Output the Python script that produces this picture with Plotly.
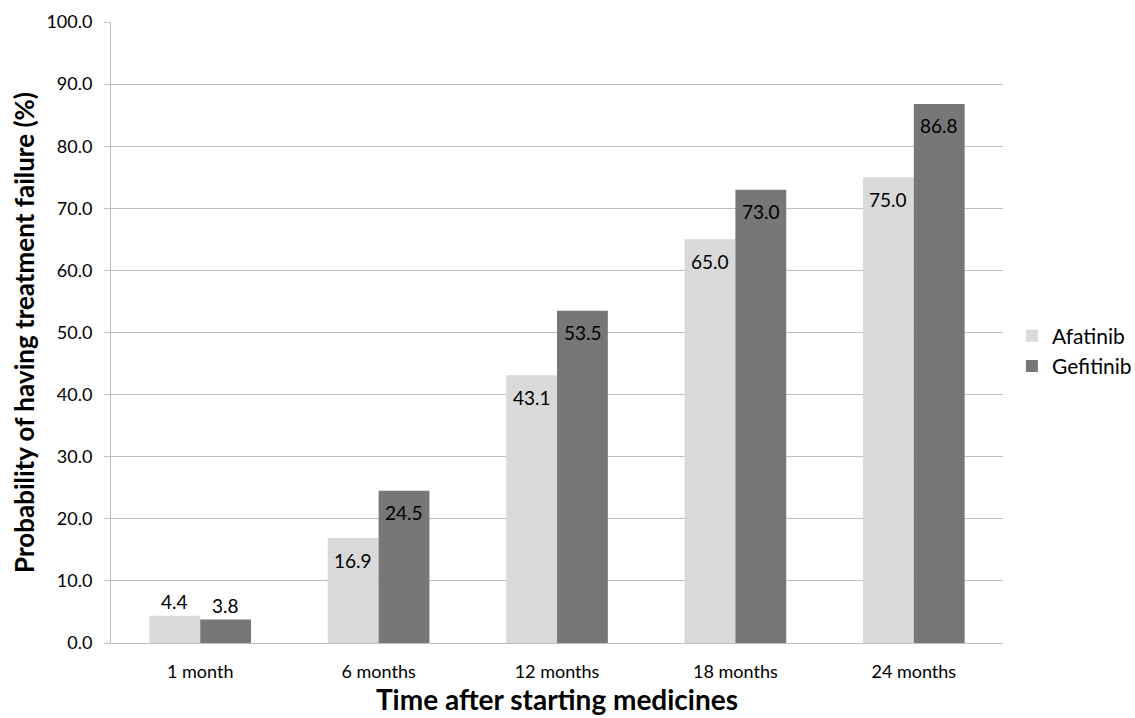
import plotly.graph_objects as go

# Probability of treatment failure over time, by medicine
categories = ["1 month", "6 months", "12 months", "18 months", "24 months"]
afatinib = [4.4, 16.9, 43.1, 65.0, 75.0]
gefitinib = [3.8, 24.5, 53.5, 73.0, 86.8]
series_names = ["Afatinib", "Gefitinib"]
y_ticks = [0, 10, 20, 30, 40, 50, 60, 70, 80, 90, 100]

FONT = "Lato, Calibri, Carlito, sans-serif"
LIGHT = "#d9d9d9"
DARK = "#777777"
GRID = "#bfbfbf"

fig = go.Figure()
for name, vals, color in [(series_names[0], afatinib, LIGHT), (series_names[1], gefitinib, DARK)]:
    fig.add_trace(go.Bar(
        x=categories, y=vals, name=name,
        marker=dict(color=color, line=dict(width=0)),
        offsetgroup=name,
    ))

# value labels: inside the bar top, or just above it for short bars
annotations = []
for vals, xshift in [(afatinib, -25.5), (gefitinib, 25.5)]:
    for cat, v in zip(categories, vals):
        inside = v > 10
        annotations.append(dict(
            x=cat, y=v, xref="x", yref="y", text=f"{v:.1f}",
            showarrow=False, xshift=xshift, yshift=-22 if inside else 14,
            font=dict(family=FONT, size=19, color="#000000"),
        ))

fig.update_layout(
    width=1135, height=718,
    margin=dict(l=111, r=132, t=22, b=75, autoexpand=False),
    paper_bgcolor="white", plot_bgcolor="white",
    barmode="group", bargap=0.43, bargroupgap=0,
    font=dict(family=FONT, size=18, color="#000000"),
    annotations=annotations,
    legend=dict(
        x=1.01, xanchor="left", y=0.47, yanchor="middle",
        font=dict(family=FONT, size=21, color="#000000"),
        itemwidth=30, tracegroupgap=4,
    ),
    xaxis=dict(
        title=dict(text="<b>Time after starting medicines</b>",
                   font=dict(family=FONT, size=28), standoff=9),
        showgrid=False, showline=True, linecolor=GRID, linewidth=1,
        ticks="", tickfont=dict(family=FONT, size=18), ticklabelstandoff=12,
    ),
    yaxis=dict(
        title=dict(text="<b>Probability of having treatment failure (%)</b>",
                   font=dict(family=FONT, size=26), standoff=4),
        range=[0, 100], tickvals=y_ticks, tickformat=".1f",
        showgrid=True, gridcolor=GRID, gridwidth=1,
        showline=True, linecolor=GRID, linewidth=1,
        ticks="outside", ticklen=6, tickcolor=GRID, ticklabelstandoff=8,
        zeroline=False, tickfont=dict(family=FONT, size=18),
    ),
)

fig.write_html("out.html")
